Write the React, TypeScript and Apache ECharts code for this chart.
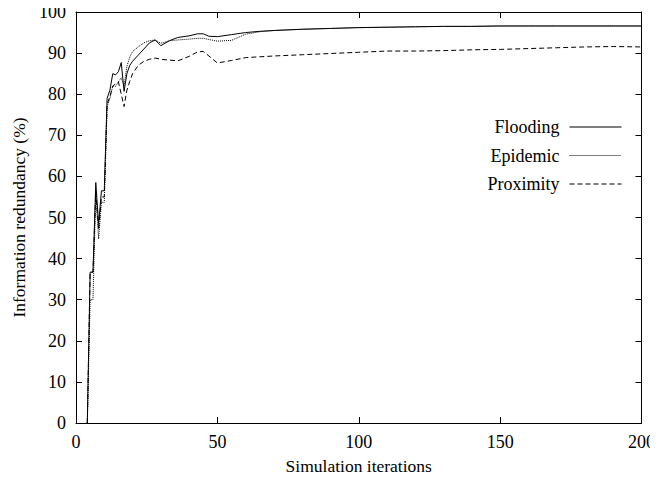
import React, { useEffect, useRef } from "react";
import * as echarts from "echarts";

const iterations = [4, 5, 6, 7, 8, 9, 10, 11, 12, 13, 14, 15, 16, 17, 18, 19, 20, 22, 24, 26, 28, 30, 33, 36, 40, 43, 45, 47, 50, 55, 60, 65, 70, 80, 90, 100, 110, 120, 130, 140, 150, 160, 170, 180, 190, 200];

const flooding = [0, 36.7, 36.7, 58.5, 48.5, 56.5, 56.5, 79, 81, 85, 84.7, 85.5, 87.7, 80.7, 85, 87, 88, 89.5, 91, 92.5, 93.2, 91.8, 93, 93.8, 94.2, 94.7, 94.7, 94.1, 94, 94.5, 95, 95.3, 95.5, 95.8, 96, 96.2, 96.3, 96.4, 96.5, 96.5, 96.6, 96.6, 96.6, 96.6, 96.6, 96.6];

const epidemic = [0, 30, 30, 56, 44.8, 53.7, 53.7, 77, 79, 82, 81.9, 83, 84, 82, 86.8, 89, 90.4, 91.5, 92.5, 93, 93.2, 92.4, 93, 93.2, 93.4, 93.6, 93.6, 93.3, 92.9, 93.1, 94.6, 95.2, 95.5, 95.8, 96, 96.2, 96.3, 96.4, 96.5, 96.5, 96.6, 96.6, 96.6, 96.6, 96.6, 96.6];

const proximity = [0, 36.7, 36.7, 56, 47, 55, 55, 77.5, 79.5, 82, 82.5, 83, 80, 77, 81, 83.1, 85, 87, 88, 88.5, 88.8, 88.5, 88.3, 88.1, 89.2, 90.3, 90.4, 89.3, 87.6, 88.2, 88.9, 89.1, 89.3, 89.6, 89.9, 90.2, 90.5, 90.5, 90.6, 90.8, 90.9, 91.1, 91.3, 91.5, 91.6, 91.5];

const xTicks = { min: 0, max: 200, interval: 50 };
const yTicks = { min: 0, max: 100, interval: 10 };

const FONT = "'Liberation Serif', 'Times New Roman', serif";

export default function App() {
  const ref = useRef<HTMLDivElement>(null);
  useEffect(() => {
    if (!ref.current) return;
    const chart = echarts.init(ref.current, undefined, { renderer: "svg" });
    const pairs = (ys: number[]) => iterations.map((x, i) => [x, ys[i]]);
    const axisCommon = {
      axisLine: { show: true, onZero: false, lineStyle: { color: "#000", width: 1 } },
      axisTick: { show: true, inside: true, length: 6, lineStyle: { color: "#000" } },
      splitLine: { show: false },
    };
    const lineSeries = (name: string, ys: number[], type: any) => ({
      name,
      type: "line",
      data: pairs(ys),
      symbol: "none",
      showSymbol: false,
      lineStyle: { color: "#000", width: 1, type },
      itemStyle: { color: "#000" },
      xAxisIndex: 0,
      yAxisIndex: 0,
    });
    chart.setOption({
      animation: false,
      backgroundColor: "#fff",
      textStyle: { fontFamily: FONT },
      grid: { left: 76, top: 12, right: 14, bottom: 55, containLabel: false },
      legend: {
        orient: "vertical",
        right: 31,
        top: 113,
        align: "right",
        itemWidth: 52,
        itemHeight: 13,
        itemGap: 10.5,
        itemStyle: { opacity: 0, borderWidth: 0 },
        lineStyle: { width: 1, type: "inherit", color: "inherit" },
        textStyle: { fontFamily: FONT, fontSize: 18, color: "#000", padding: [0, 5, 0, 0] },
        data: ["Flooding", "Epidemic", "Proximity"],
      },
      xAxis: [
        {
          type: "value",
          position: "bottom",
          ...xTicks,
          ...axisCommon,
          name: "Simulation iterations",
          nameLocation: "middle",
          nameGap: 34,
          nameTextStyle: { fontFamily: FONT, fontSize: 17.5, color: "#000" },
          axisLabel: { fontFamily: FONT, fontSize: 18, color: "#000", margin: 10 },
        },
        {
          type: "value",
          position: "top",
          ...xTicks,
          ...axisCommon,
          axisLabel: { show: false },
        },
      ],
      yAxis: [
        {
          type: "value",
          position: "left",
          ...yTicks,
          ...axisCommon,
          name: "Information redundancy (%)",
          nameLocation: "middle",
          nameGap: 41,
          nameTextStyle: { fontFamily: FONT, fontSize: 17.5, color: "#000" },
          axisLabel: { fontFamily: FONT, fontSize: 18, color: "#000", margin: 10 },
        },
        {
          type: "value",
          position: "right",
          ...yTicks,
          ...axisCommon,
          axisLabel: { show: false },
        },
      ],
      series: [
        lineSeries("Flooding", flooding, "solid"),
        lineSeries("Epidemic", epidemic, [1, 1]),
        lineSeries("Proximity", proximity, [5, 3]),
      ],
    });
    return () => chart.dispose();
  }, []);
  return <div ref={ref} style={{ width: 658, height: 480, margin: -8 }} />;
}
